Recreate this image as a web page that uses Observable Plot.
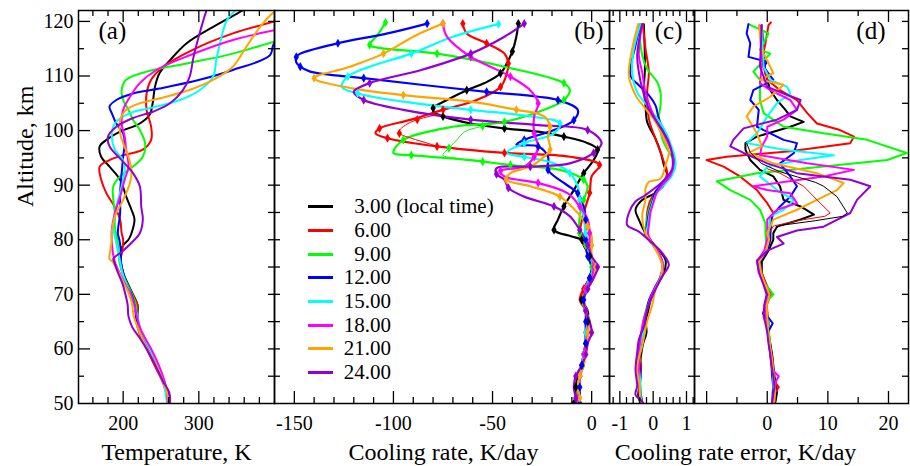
<!DOCTYPE html>
<html><head><meta charset="utf-8">
<script src="https://cdn.jsdelivr.net/npm/d3@7"></script>
<script src="https://cdn.jsdelivr.net/npm/@observablehq/plot@0.6"></script>
<style>
body{margin:0;background:#fff;}
#chart{position:relative;width:910px;height:466px;overflow:hidden;background:#fff;font-family:"Liberation Serif","Times New Roman",serif;}
#chart svg{position:absolute;top:0;}
.legend{position:absolute;left:308px;top:195px;font-family:"Liberation Serif",serif;font-size:21px;color:#000;}
.legend .row{display:flex;align-items:center;height:23.7px;white-space:pre;}
.legend .sw{display:inline-block;width:25px;height:0;border-top:3px solid;}
.legend .num{display:inline-block;width:58px;text-align:right;}
</style></head>
<body><div id="chart"></div>
<script>
// ---------- categories ----------
const times = ["3.00","6.00","9.00","12.00","15.00","18.00","21.00","24.00"];
const colors = ["#000000","#ff0000","#00ff00","#0000ff","#00ffff","#ff00ff","#ffa500","#9400d3"];

// ---------- tick values / labels ----------
const altLabels = [50,60,70,80,90,100,110,120];
const altMajor = [60,70,80,90,100,110,120];
const altMinor = [55,65,75,85,95,105,115];
const tempLabels = [200,300];
const tempMinor = [160,180,220,240,260,280,320,340,360,380];
const coolLabels = [-150,-100,-50,0];
const coolMinor = [-140,-130,-120,-110,-90,-80,-70,-60,-40,-30,-20,-10];
const smallLabels = [-1,0,1];
const smallMinor = [-1.2,-0.8,-0.6,-0.4,-0.2,0.2,0.4,0.6,0.8,1.2];
const errLabels = [0,10,20];
const errMajor = [-10,0,10,20];
const errMinor = [-5,5,15];

// ---------- (a) temperature, K : [altitude km, value] ----------
const tempBlack = [[122.5,364],[122,358],[119,319],[116,284],[112.9,262],[110.5,248],[108,242],[105,239],[102.9,235],[101.3,222],[99.8,196],[98.3,178],[97.1,169],[95.2,171],[93.4,182],[91,196],[87.9,204],[85.5,211],[83.7,215],[81.2,211],[80,207],[79,200],[78,197],[76,197],[74,200],[72,206],[70,213],[68,219],[66,219],[64,221],[62,226],[60,232],[58,239],[56,246],[54,253],[52,259],[50,262]];
const tempRed = [[120.5,410],[120,400],[117.8,345],[114.8,292],[111.7,253],[109.3,237],[106.8,231],[103.8,231],[100.7,237],[98.3,237],[96.5,226],[95.5,200],[94.6,182],[93.4,169],[91,171],[88.5,178],[86,189],[83.7,196],[81.2,198],[80,200],[78,199],[76,196],[74,199],[72,205],[70,212],[68,219],[66,217],[64,219],[62,224],[60,231],[58,238],[56,245],[54,252],[52,257],[50,261]];
const tempGreen = [[117,420],[116.3,400],[114.1,345],[112.3,284],[110.8,231],[109.3,204],[107.4,198],[105.6,200],[103.8,207],[102,213],[100.1,222],[97.7,229],[95.2,226],[93.4,213],[91.6,196],[89.8,187],[87.3,187],[84.9,189],[82.4,189],[80,192],[78,194],[76,195],[74,199],[72,205],[70,212],[68,217],[66,218],[64,220],[62,226],[60,233],[58,240],[56,246],[54,253],[52,258],[50,260]];
const tempBlue = [[117,440],[116,400],[113.8,394],[111.1,345],[109.3,301],[107.7,248],[106.8,213],[105.6,191],[104.4,182],[103.2,185],[101.3,191],[99.5,200],[97.7,202],[95.2,200],[92.2,198],[88.5,196],[84.9,196],[81.2,193],[80,195],[78,197],[76,197],[74,200],[72,204],[70,211],[68,215],[66,217],[64,220],[62,227],[60,234],[58,241],[56,248],[54,254],[52,257],[50,259]];
const tempCyan = [[122.5,352],[122,348],[120.2,337],[116,328],[112.9,323],[109.9,319],[107.4,301],[105.6,275],[104.4,244],[103.2,209],[101.3,189],[98.9,185],[96.5,189],[94.6,200],[92.8,202],[89.8,198],[86,191],[82.4,187],[80,190],[78,193],[76,196],[74,199],[72,204],[70,210],[68,214],[66,219],[64,222],[62,228],[60,235],[58,242],[56,248],[54,253],[52,256],[50,258]];
const tempMagenta = [[119,420],[118.4,400],[116.6,345],[113.8,288],[111.1,244],[108.7,222],[106.2,209],[103.8,200],[101.3,198],[98.9,202],[96.5,204],[93.4,207],[91,202],[87.9,196],[84.9,189],[81.8,185],[80,185],[78,186],[76,189],[74,195],[72,202],[70,210],[68,215],[66,218],[64,222],[62,229],[60,237],[58,244],[56,250],[54,255],[52,258],[50,259]];
const tempOrange = [[122.5,410],[121.8,400],[119,381],[115.4,363],[111.7,345],[109.6,323],[107.7,293],[106.2,257],[105,222],[103.8,204],[101.9,196],[99.5,196],[97.7,200],[95.2,207],[92.8,211],[90.4,209],[87.3,200],[84.3,189],[81.2,185],[80,185],[78,183],[76.5,182],[76,186],[74,194],[72,201],[70,208],[68,212],[66,214],[64,219],[62,225],[60,232],[58,240],[56,247],[54,253],[52,258],[50,260]];
const tempPurple = [[122.5,311],[122,310],[120.2,306],[117.8,301],[113.5,293],[109.9,288],[107.4,279],[105,262],[103.5,240],[102.3,213],[100.7,191],[98.9,180],[97.1,182],[94.6,198],[92.2,213],[89.8,222],[86,224],[83.7,226],[81.2,222],[80,215],[78,200],[76.5,187],[76,188],[74,193],[72,199],[70,203],[68,206],[66,207],[64,212],[62,222],[60,231],[58,239],[56,246],[54,253],[52,261],[50,262]];

// ---------- (b) cooling rate, K/day ----------
const coolBlack = [[119.6,-37],[117.2,-38],[114.5,-40],[112.9,-42],[110.5,-46],[108.7,-54],[107.4,-63],[105.6,-73],[104.1,-80],[103.2,-79],[102.6,-75],[101.3,-61],[100.4,-44],[99.8,-27],[98.9,-14],[97.7,-2],[96.5,3],[94.6,1],[92.2,-4],[89.1,-9],[86.1,-14],[83.7,-17],[81.8,-19],[80.6,-10],[80,-5],[79,-4],[77,-1],[75,1],[73,-1],[71,-4],[69,-5],[67,-2],[65,-2],[63,-3],[61,-3],[59,-4],[57,-5],[55,-7],[53,-8],[51,-8],[50,-9]];
const coolRed = [[119.6,-65],[117.8,-63],[116,-53],[114.1,-44],[112.3,-42],[110.2,-43],[108,-46],[105.6,-58],[103.8,-75],[102,-91],[100.4,-107],[99.5,-109],[98.6,-103],[97.1,-78],[95.9,-44],[95.2,-11],[93.7,4],[91.6,0],[88.6,-1],[84.9,-4],[81.2,-6],[80,-5],[79,-3],[77,-1],[75,1],[73,-1],[71,-4],[69,-6],[67,-3],[65,-2],[63,-3],[61,-3],[59,-4],[57,-5],[55,-6],[53,-7],[51,-7],[50,-7]];
const coolGreen = [[119.8,-104],[117.5,-108],[115.7,-112],[115.2,-108],[114.1,-78],[111.7,-44],[108.7,-14],[107.4,-11],[105.6,-14],[103.8,-24],[101.6,-44],[100.7,-70],[98.3,-95],[95.9,-100],[95.5,-91],[94.6,-61],[93.7,-41],[92.8,-16],[91,-4],[89.8,-2],[87.3,-4],[84.3,-6],[81.2,-6],[80,-4],[79,-3],[77,-2],[75,0],[73,-1],[71,-3],[69,-5],[67,-3],[65,-2],[63,-2],[61,-3],[59,-4],[57,-5],[55,-6],[53,-7],[51,-7],[50,-6]];
const coolBlue = [[119.6,-83],[117.8,-103],[116,-128],[114.1,-147],[113.5,-149],[112.5,-149],[111.7,-147],[110.8,-142],[109.6,-115],[108.4,-86],[107.1,-53],[106.2,-27],[105.6,-17],[103.8,-7],[101.9,-9],[100.1,-19],[98.3,-34],[97.4,-38],[97.1,-27],[95.2,-22],[92.8,-22],[90.4,-14],[88.5,-7],[86.1,-4],[83.7,-3],[81.2,-3],[80,-3],[79,-3],[77,-2],[75,0],[73,-1],[71,-3],[69,-4],[67,-3],[65,-3],[63,-3],[61,-3],[59,-4],[57,-5],[55,-6],[53,-6],[51,-6],[50,-6]];
const coolCyan = [[119.5,-47],[117.2,-70],[114.1,-91],[111.7,-112],[109.9,-123],[108,-126],[106.8,-118],[105.3,-95],[103.8,-61],[102.6,-31],[101.3,-16],[99.5,-19],[97.7,-34],[95.9,-43],[95.2,-34],[94,-19],[92.2,-11],[89.8,-7],[87.3,-6],[84.3,-4],[81.2,-3],[80,-2],[79,-2],[77,-1],[75,1],[73,-1],[71,-3],[69,-4],[67,-3],[65,-2],[63,-3],[61,-3],[59,-4],[57,-5],[55,-6],[53,-6],[51,-7],[50,-7]];
const coolMagenta = [[119.6,-75],[117.2,-73],[113.5,-61],[111.7,-51],[109.9,-41],[107.4,-31],[105,-27],[102.6,-29],[99.5,-29],[97.1,-27],[95.2,-29],[93.4,-34],[92.6,-46],[91.6,-44],[90.4,-27],[88.5,-12],[86.1,-6],[83.7,-2],[81.2,-1],[80,-1],[79,-1],[77,0],[75,1],[73,0],[71,-3],[69,-4],[67,-3],[65,-2],[63,-2],[61,-3],[59,-4],[57,-4],[55,-6],[53,-6],[51,-7],[50,-7]];
const coolOrange = [[119.6,-75],[117.2,-90],[114.1,-105],[111.7,-122],[109.6,-140],[107.7,-120],[106.5,-95],[105.3,-61],[103.8,-38],[102.6,-24],[100.7,-21],[98.9,-22],[96.5,-21],[94.6,-26],[93.4,-31],[92.2,-41],[91,-43],[89.8,-31],[87.9,-16],[84.9,-7],[82.4,-2],[80.6,0],[79,0],[77,0],[75,2],[73,1],[71,-2],[69,-4],[67,-3],[65,-1],[63,-2],[61,-2],[59,-3],[57,-4],[55,-6],[53,-7],[51,-6],[50,-6]];
const coolPurple = [[119.6,-34],[117.2,-44],[114.1,-61],[111.1,-86],[108.7,-112],[107.1,-120],[105.6,-115],[103.8,-95],[102,-61],[101,-27],[100.1,-2],[97.7,5],[95.9,1],[94,-11],[93.4,-31],[93.1,-48],[92,-48],[91,-44],[89.5,-42],[87.9,-34],[86.1,-19],[84.3,-11],[81.8,-6],[80,-3],[79,-2],[77,0],[75,3],[73,1],[71,-2],[69,-4],[67,-3],[65,-1],[63,0],[61,-2],[59,-3],[57,-5],[55,-8],[53,-9],[51,-8],[50,-8]];
// thin companion lines where they separate from the thick ones
const coolRedThin = [[103,-77],[102,-88],[101,-94],[100,-97],[99.5,-97],[98.6,-91],[97.6,-82],[97.1,-78]];
const coolGreenThin = [[101.8,-42],[100.8,-55],[99.8,-64],[98.3,-68],[96.8,-72],[95.5,-75],[94.9,-68],[94.3,-55],[93.7,-41]];

// ---------- (c) cooling rate error (small), K/day ----------
const smallBlack = [[119.5,-0.28],[113.8,-0.25],[110.7,-0.25],[107.7,-0.28],[104.6,-0.23],[101.6,-0.18],[98.5,0.07],[96.1,0.22],[93.7,0.32],[91.8,0.42],[90,0.32],[88.5,0.05],[87.3,-0.33],[85.5,-0.53],[83.7,-0.43],[81.2,-0.23],[78.8,0.07],[76.3,0.37],[73.9,0.32],[71.5,0.1],[69.5,-0.05],[67,-0.15],[65,-0.22],[63,-0.2],[61,-0.3],[59,-0.36],[57,-0.4],[55,-0.42],[53,-0.42],[51.5,-0.45],[50,-0.38]];
const smallRed = [[119.5,-0.31],[115,-0.23],[110.7,-0.13],[107,-0.18],[102.2,-0.13],[98.5,0.07],[96.1,0.22],[94.3,0.32],[92.4,0.42],[90.6,0.32],[88.8,0.07],[87,-0.1],[85,-0.18],[83,-0.2],[81,-0.25],[79,0.0],[77,0.2],[75,0.3],[73,0.22],[71,0.05],[69,-0.1],[67,-0.2],[65,-0.25],[63,-0.3],[61,-0.33],[59,-0.4],[57,-0.36],[55,-0.38],[53,-0.4],[51,-0.38],[50,-0.36]];
const smallGreen = [[119.5,-0.43],[113.8,-0.33],[111.3,-0.18],[108.9,0.12],[107,0.22],[104.6,0.22],[102.2,0.17],[98.5,0.27],[96.1,0.47],[93.7,0.67],[91.2,0.47],[89.4,0.17],[87,-0.05],[85,-0.15],[83,-0.2],[81,-0.22],[79,0.02],[77,0.22],[75,0.3],[73,0.22],[71,0.05],[70,0.0],[69,-0.12],[67,-0.22],[65,-0.3],[63,-0.32],[61,-0.4],[59,-0.42],[57,-0.4],[55,-0.4],[53,-0.38],[51,-0.36],[50,-0.35]];
const smallBlue = [[119.5,-0.38],[115.6,-0.53],[110.1,-0.68],[108.3,-0.43],[106.5,-0.13],[104.6,0.07],[102.2,0.17],[98.5,0.42],[95.5,0.62],[92.4,0.57],[90.6,0.32],[88.8,0.07],[87,-0.02],[85,-0.12],[83,-0.18],[81,-0.2],[79,0.0],[77,0.2],[75,0.28],[73,0.2],[71,0.03],[69,-0.12],[67,-0.2],[65,-0.28],[63,-0.35],[61,-0.42],[59,-0.45],[57,-0.4],[55,-0.38],[53,-0.4],[51,-0.35],[50,-0.32]];
const smallCyan = [[119.5,-0.38],[115,-0.58],[110.7,-0.63],[107,-0.48],[104.6,-0.18],[102.2,0.12],[99.8,0.37],[96.7,0.57],[94.3,0.67],[91.8,0.57],[90,0.32],[88.5,0.1],[87,0.0],[85,-0.1],[83,-0.15],[81,-0.2],[79,0.0],[77,0.22],[75,0.3],[73,0.22],[71,0.05],[69,-0.08],[67,-0.2],[65,-0.28],[63,-0.3],[61,-0.38],[59,-0.42],[57,-0.44],[55,-0.4],[53,-0.38],[51,-0.37],[50,-0.33]];
const smallMagenta = [[119.5,-0.33],[113.8,-0.43],[110.7,-0.33],[107,-0.23],[103.4,-0.03],[99.8,0.27],[96.7,0.52],[94.3,0.62],[91.8,0.52],[90,0.27],[88.5,0.1],[87,0.02],[85,-0.08],[83,-0.12],[81,-0.15],[79,0.02],[77,0.22],[75,0.3],[73,0.22],[71,0.05],[69,-0.1],[67,-0.2],[65,-0.3],[63,-0.36],[61,-0.4],[59,-0.45],[57,-0.42],[55,-0.44],[53,-0.42],[51,-0.4],[50,-0.37]];
const smallOrange = [[119.5,-0.45],[115,-0.63],[110.1,-0.73],[106.5,-0.53],[104,-0.23],[101.6,0.07],[98.5,0.32],[96.1,0.47],[93.7,0.37],[91.2,0.22],[90.6,-0.13],[89.4,-0.23],[87.3,-0.23],[84.3,-0.33],[81.2,-0.23],[78.8,0.02],[75.4,0.27],[73,0.22],[70.9,0.07],[68,-0.03],[65,-0.18],[62,-0.28],[60,-0.35],[58,-0.45],[56,-0.48],[54,-0.42],[52,-0.4],[50,-0.38]];
const smallPurple = [[119.5,-0.33],[113.8,-0.48],[110.7,-0.43],[107.7,-0.33],[104,-0.13],[101,0.17],[97.9,0.47],[95.5,0.57],[93,0.57],[90.6,0.27],[88.2,-0.23],[87,-0.53],[84.9,-0.73],[82.7,-0.78],[81.5,-0.43],[79.4,-0.03],[77.6,0.27],[75.4,0.47],[73.3,0.27],[71.5,0.12],[69.6,-0.03],[67.2,-0.18],[64.1,-0.28],[61.7,-0.43],[59.3,-0.48],[56.2,-0.53],[53.2,-0.48],[51.6,-0.53],[50.4,-0.33],[50,-0.3]];

// ---------- (d) cooling rate error, K/day ----------
const errBlack = [[119.3,-0.9],[114.8,-0.6],[110.5,-0.3],[107.4,0.5],[105.6,1.6],[103.8,3],[102.6,3.8],[101.6,6],[100.7,3.8],[98.9,-1.7],[97.7,-3.6],[96.5,-3.6],[94.6,-2.8],[92.8,-1.2],[91.6,1],[89.8,2.1],[87.3,2.7],[86.1,5.5],[84.6,7.7],[83.7,5.5],[82.4,1.6],[81.2,1],[80,1],[78,0.2],[76,-0.9],[74,-0.9],[72,-0.3],[70,0.2],[68,-0.2],[66.5,-0.7],[65,0.2],[63,0.2],[61,0.5],[59,0.8],[57,1],[55,1.2],[53,1.5],[52,1.6],[50.6,1.4],[50,1.3]];
const errRed = [[119.8,0.6],[119.3,0.2],[116,-0.3],[112.9,-0.9],[109.3,0],[107.4,2.1],[105.6,4.9],[103.2,6.6],[101.3,8.2],[100.1,12],[98.9,14.3],[97.7,13.7],[96.2,3.8],[95.2,-6.7],[94.6,-10],[93.4,-7.2],[91.6,-4.5],[89.1,-1.7],[86.7,0],[84.9,1],[83,0.5],[81.2,0.5],[80,0.5],[78,0],[76,-1.2],[74,-1],[72,-0.2],[70,0.6],[68,-0.1],[66,0.1],[64,0],[62,0.3],[60,0.6],[58,0.9],[56,1],[54,1.2],[53,1.9],[52,1.3],[50,1.2]];
const errGreen = [[119.5,-3.1],[117.8,0.2],[114.8,-1.2],[114.1,0.5],[110.8,-2.3],[109.3,-1.2],[105.6,-1.2],[103.2,-0.6],[100.7,2.7],[99.5,9.3],[98.3,16.5],[95.9,23],[94.6,19.8],[93.4,9.3],[92.2,-1.7],[90.7,-8.3],[89.1,-6.1],[87.3,-2.8],[85.5,-1.2],[83,-0.3],[81.2,-0.3],[80,-0.2],[78,-0.3],[76,-1.4],[74,-1.1],[72,-0.4],[70,1],[69,0.2],[68,-0.4],[66,0],[64,0.2],[62,0.4],[60,0.5],[58,0.7],[56,0.9],[54,1],[52,1.2],[50,1]];
const errBlue = [[119.5,-3.1],[117.8,-3.4],[116,-2.8],[113.5,-3.1],[112.6,0],[111.7,-0.6],[109.3,1],[107.4,-2.3],[105.6,-2.8],[103.8,-1.4],[100.7,-1.7],[99.5,0.5],[98.3,2.7],[97.7,4.9],[95.9,4.4],[94,2.1],[91.6,3.8],[89.8,4.9],[87.9,3.8],[86.1,2.1],[84.3,0.8],[81.2,0.5],[80,0.5],[78,0],[76,-1.2],[74,-1],[72,-0.5],[70,0.2],[68,-0.3],[66,0],[64.7,0.9],[63,0.1],[61,0.3],[59,0.5],[57,0.7],[55,0.8],[53,1],[52,0.9],[50,0.8]];
const errCyan = [[119.3,-0.9],[111.7,-0.6],[109.3,0.5],[108,3.3],[106.8,3.8],[105,1.6],[102.6,0],[99.5,-1.7],[97.7,-3.4],[96.5,2.7],[95.5,11],[94.6,5.5],[93.4,0],[91.6,-1.2],[89.1,1.6],[87.3,4.4],[85.5,2.7],[84.3,0.5],[81.2,0.2],[80,0.2],[78,-0.2],[76,-1.5],[74,-1.2],[72,-0.5],[70,0.3],[68,-0.2],[66,-0.1],[64,0.1],[62,0.2],[60,0.5],[58,0.7],[56,0.9],[54,1],[52,1.1],[50,0.9]];
const errMagenta = [[119.3,-1.2],[111.7,-0.9],[108.7,-1.2],[107.4,0.5],[105.6,3.8],[103.8,4.9],[102,2.7],[100.7,0],[98.9,0],[97.1,-0.9],[95.5,-1.2],[94,6.6],[92.8,14.3],[91.6,9.3],[89.8,-2.3],[89.1,0],[88.5,3.8],[86.7,4.9],[85.5,1.6],[83.7,0],[81.2,0],[80,0],[78,-0.5],[76,-1.7],[74,-1.3],[72,-0.6],[70,0.3],[68,-0.3],[66,-0.2],[64,0],[62,0.2],[60,0.4],[58,0.7],[56,1],[55,1.9],[54,1.4],[52,1.2],[50,1]];
const errOrange = [[119.3,-1.4],[114.8,-0.9],[111.7,0.5],[110.5,1],[109.3,-1.2],[108.4,2.7],[106.2,0.5],[104.4,-2.3],[102.6,-3.4],[99.5,-1.7],[97.1,-0.9],[95.9,-3.1],[94,1],[92.2,8.2],[90.4,12.6],[89.1,11.5],[87.3,8.2],[85.5,4.9],[83.7,1],[81.2,0],[80,0.3],[78,-0.2],[76,-1.3],[74,-1],[72,-0.4],[70,0.4],[68,-0.1],[66,0],[64,0.1],[62,0.3],[60,0.5],[58,0.8],[56,1],[54,1.1],[52,1.3],[50,1.1]];
const errPurple = [[119.3,-0.9],[111.7,-1.2],[108,0],[106.8,2.7],[105.6,5.5],[103.8,4.9],[102,1.6],[100.4,-3.9],[98.3,-5.6],[97.1,-6.1],[95.9,-3.9],[94,0],[92.2,4.9],[91,13.7],[89.8,17],[87.3,14.8],[84.9,13.7],[82.4,9.3],[81.7,4.9],[80.5,1.6],[79.3,2.7],[78,0],[76.2,-1.7],[74,-1.4],[72,-0.7],[70,-0.1],[68,-0.5],[66,-0.6],[64.7,-0.3],[63,0],[61,0.2],[59,0.5],[57,0.7],[55,1],[53,1.2],[51,0.9],[50,0.8]];
const errBlackThin = [[97.7,-3.4],[96,-2.8],[94,-1],[92.5,2],[91.5,5],[90.5,8],[89.8,9.3],[87.9,11.5],[84.9,13.2],[84.3,12.5],[83.5,8],[82.6,2],[81.5,1]];
const errRedThin = [[93,0],[92.2,2.1],[91,4],[89.8,6],[87.3,8.2],[84.9,10.4],[84.3,9.5],[83.5,5],[82.5,1],[81.5,0.5]];

// ---------- helpers ----------
function rowsOf(list, names) {
  return list.flatMap((arr, i) => arr.map(([alt, v], k) => ({t: names ? names[i] : times[i], alt, v, k})));
}
const H = 466, MT = 10, MB = 63, PH = H - MT - MB;

function panel(o) {
  const pw = o.width - o.ml - o.mr;
  const ink = {stroke: "black", strokeWidth: 1.3};
  const rows = rowsOf(o.series);
  const marks = [
    Plot.line(rows, {x: "v", y: "alt", z: "t", stroke: "t", strokeWidth: o.sw, curve: o.curve, clip: true})
  ];
  if (o.thin) marks.push(Plot.line(rowsOf(o.thin.data, o.thin.names), {x: "v", y: "alt", z: "t", stroke: "t", strokeWidth: 1, curve: o.curve, clip: true}));
  if (o.markers) {
    marks.push(Plot.dot(rows.filter(d => d.k % 2 === 0), {x: "v", y: "alt", fill: "t", symbol: "diamond", r: 2.8, clip: true}));
    if (o.thin) marks.push(Plot.dot(rowsOf(o.thin.data, o.thin.names).filter(d => d.k % 3 === 1), {x: "v", y: "alt", fill: "t", symbol: "diamond", r: 2.8, clip: true}));
  }
  // inward ticks on all four sides
  marks.push(
    Plot.tickX(o.xMajor, {x: d => d, insetTop: PH - 12, ...ink}),
    Plot.tickX(o.xMajor, {x: d => d, insetBottom: PH - 12, ...ink}),
    Plot.tickX(o.xMinor, {x: d => d, insetTop: PH - 6, ...ink}),
    Plot.tickX(o.xMinor, {x: d => d, insetBottom: PH - 6, ...ink}),
    Plot.tickY(altMajor, {y: d => d, insetRight: pw - (o.leftAxis ? 12 : 6), ...ink}),
    Plot.tickY(altMinor, {y: d => d, insetRight: pw - 6, ...ink}),
    Plot.tickY(altMajor, {y: d => d, insetLeft: pw - 6, ...ink}),
    Plot.tickY(altMinor, {y: d => d, insetLeft: pw - 6, ...ink}),
    Plot.frame({stroke: "black", strokeWidth: 1.5}),
    Plot.text(o.xLabels, {x: d => d, text: d => String(d), frameAnchor: "bottom", dy: 20, fontSize: 20, lineAnchor: "middle"}),
    Plot.text([o.tag], {text: d => d, frameAnchor: o.tagAnchor, textAnchor: o.tagAnchor === "top-left" ? "start" : "end", dx: o.tagDx, dy: 11, lineAnchor: "top", fontSize: 25}),
    Plot.text([o.title], {text: d => d, frameAnchor: "bottom", dx: o.titleDx, dy: 49, fontSize: 24, lineAnchor: "middle"})
  );
  if (o.leftAxis) {
    marks.push(
      Plot.text(altLabels, {y: d => d, text: d => String(d), frameAnchor: "left", textAnchor: "end", dx: -5, fontSize: 20, lineAnchor: "middle"}),
      Plot.text(["Altitude, km"], {text: d => d, frameAnchor: "left", rotate: -90, dx: -53, fontSize: 24, lineAnchor: "middle"})
    );
  }
  const svg = Plot.plot({
    width: o.width, height: H, marginTop: MT, marginBottom: MB, marginLeft: o.ml, marginRight: o.mr,
    x: {domain: o.xDomain, axis: null},
    y: {domain: [50, 122], axis: null},
    color: {domain: times, range: colors},
    style: {background: "transparent", overflow: "visible", fontFamily: "'Liberation Serif', 'Times New Roman', serif", color: "black"},
    marks
  });
  svg.style.left = o.left + "px";
  return svg;
}

const chart = document.getElementById("chart");
chart.append(panel({
  left: 0, width: 276, ml: 78, mr: 2, xDomain: [141, 400],
  series: [tempBlack, tempRed, tempGreen, tempBlue, tempCyan, tempMagenta, tempOrange, tempPurple],
  sw: 2, curve: "catmull-rom",
  xMajor: tempLabels, xMinor: tempMinor, xLabels: tempLabels,
  tag: "(a)", tagAnchor: "top-left", tagDx: 20,
  title: "Temperature, K", titleDx: 0, leftAxis: true
}));
chart.append(panel({
  left: 272, width: 340, ml: 2, mr: 3, xDomain: [-160, 9],
  series: [coolBlack, coolRed, coolGreen, coolBlue, coolCyan, coolMagenta, coolOrange, coolPurple],
  thin: {data: [coolRedThin, coolGreenThin], names: ["6.00", "9.00"]},
  sw: 2.2, curve: "catmull-rom", markers: true,
  xMajor: coolLabels, xMinor: coolMinor, xLabels: coolLabels,
  tag: "(b)", tagAnchor: "top-right", tagDx: -6,
  title: "Cooling rate, K/day", titleDx: 1.5
}));
chart.append(panel({
  left: 607, width: 303, ml: 2, mr: 216, xDomain: [-1.31, 1.24],
  series: [smallBlack, smallRed, smallGreen, smallBlue, smallCyan, smallMagenta, smallOrange, smallPurple],
  sw: 2, curve: "catmull-rom",
  xMajor: smallLabels, xMinor: smallMinor, xLabels: smallLabels,
  tag: "(c)", tagAnchor: "top-right", tagDx: -12,
  title: "Cooling rate error, K/day", titleDx: 83.5
}));
chart.append(panel({
  left: 692, width: 218, ml: 2, mr: 2, xDomain: [-12, 23.3],
  series: [errBlack, errRed, errGreen, errBlue, errCyan, errMagenta, errOrange, errPurple],
  thin: {data: [errBlackThin, errRedThin], names: ["3.00", "6.00"]},
  sw: 2, curve: "linear",
  xMajor: errMajor, xMinor: errMinor, xLabels: errLabels,
  tag: "(d)", tagAnchor: "top-right", tagDx: -23,
  title: "", titleDx: 0
}));

// legend inside panel (b)
const legend = document.createElement("div");
legend.className = "legend";
times.forEach((t, i) => {
  const row = document.createElement("div");
  row.className = "row";
  row.innerHTML = `<span class="sw" style="border-top-color:${colors[i]}"></span><span class="num">${t}</span>${i === 0 ? " (local time)" : ""}`;
  legend.append(row);
});
chart.append(legend);
</script>
</body></html>
